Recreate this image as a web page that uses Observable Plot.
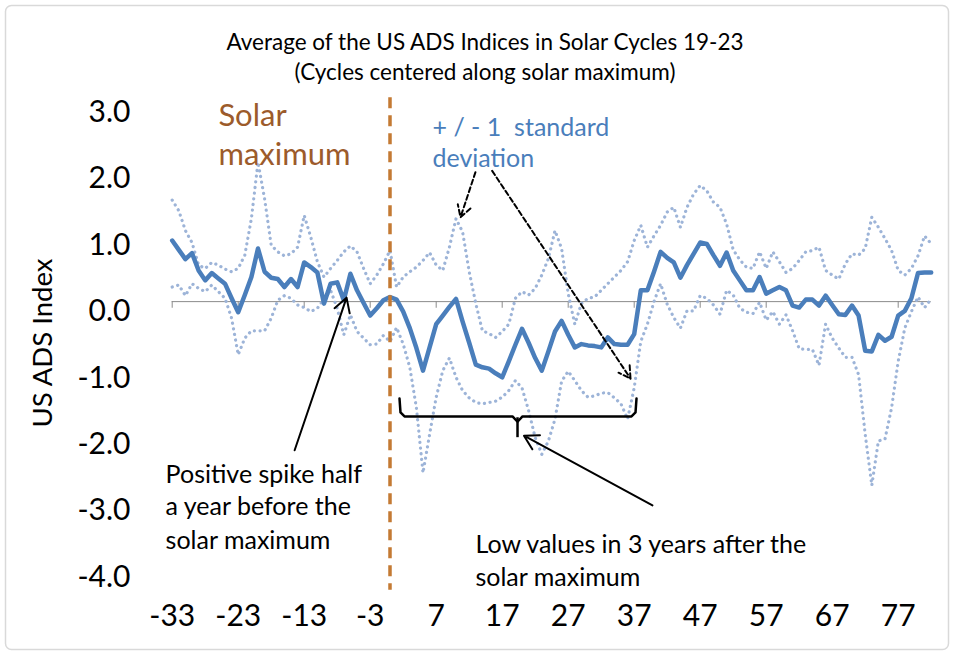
<!DOCTYPE html>
<html><head><meta charset="utf-8">
<script src="https://cdn.jsdelivr.net/npm/d3@7"></script>
<script src="https://cdn.jsdelivr.net/npm/@observablehq/plot@0.6"></script>
<style>
html,body{margin:0;padding:0;background:#fff;}
#chart{width:954px;height:655px;position:relative;}
</style></head><body><div id="chart"></div>
<script>
// months relative to the solar maximum (category axis)
const months = d3.range(-33, 83);
const adsMean = [
 0.92,0.78,0.64,0.73,0.47,0.32,0.43,0.35,0.27,0.05,
 -0.16,0.10,0.37,0.80,0.45,0.36,0.34,0.22,0.34,0.22,
 0.59,0.52,0.44,-0.03,0.27,0.29,0.02,0.42,0.17,-0.02,
 -0.21,-0.10,0.02,0.07,0.03,-0.15,-0.40,-0.70,-1.04,-0.69,
 -0.34,-0.21,-0.08,0.04,-0.30,-0.62,-0.95,-0.99,-1.01,-1.08,
 -1.14,-0.90,-0.65,-0.41,-0.62,-0.85,-1.04,-0.75,-0.45,-0.29,
 -0.50,-0.69,-0.64,-0.66,-0.67,-0.69,-0.54,-0.64,-0.65,-0.65,
 -0.49,0.17,0.17,0.45,0.75,0.66,0.59,0.36,0.55,0.72,
 0.89,0.87,0.70,0.54,0.74,0.47,0.32,0.17,0.17,0.37,
 0.12,0.17,0.22,0.17,-0.06,-0.09,0.03,0.03,-0.06,0.09,
 -0.05,-0.19,-0.20,-0.06,-0.21,-0.74,-0.75,-0.50,-0.59,-0.53,
 -0.21,-0.14,0.05,0.43,0.44,0.44
];
const adsUpper = [
 1.53,1.37,1.07,0.89,0.55,0.50,0.59,0.55,0.49,0.45,
 0.50,0.70,1.25,2.10,1.55,0.85,0.75,0.69,0.72,0.82,
 1.30,0.97,0.60,0.37,0.50,0.62,0.75,0.84,0.75,0.50,
 0.27,0.40,0.57,0.77,0.22,0.37,0.45,0.52,0.62,0.74,
 0.55,0.47,0.82,1.25,1.05,0.45,-0.03,-0.44,-0.48,-0.54,
 -0.45,-0.34,0.05,0.15,0.10,0.20,0.40,0.65,1.07,0.80,
 0.12,-0.34,-0.03,0.05,0.07,0.17,0.27,0.37,0.47,0.60,
 0.92,1.15,0.82,0.99,1.15,1.35,1.42,1.12,1.42,1.62,
 1.75,1.67,1.50,1.42,1.17,0.78,0.63,0.52,0.50,0.75,
 0.50,0.75,0.60,0.44,0.50,0.62,0.75,0.77,0.82,0.47,
 0.40,0.34,0.57,0.72,0.70,0.80,1.27,1.12,0.95,0.77,
 0.47,0.40,0.50,0.69,0.99,0.87
];
const adsLower = [
 0.22,0.25,0.09,0.27,0.20,0.15,0.25,0.15,0.05,-0.25,
 -0.80,-0.55,-0.44,-0.44,-0.44,-0.25,0.02,0.09,0.05,-0.05,
 -0.09,-0.15,-0.10,0.04,0.17,-0.10,-0.50,-0.20,-0.45,-0.55,
 -0.65,-0.64,-0.51,-0.60,-0.39,-0.64,-0.99,-1.60,-2.58,-2.00,
 -1.44,-1.04,-0.85,-1.14,-1.34,-1.45,-1.52,-1.54,-1.52,-1.50,
 -1.44,-1.34,-1.19,-1.30,-1.64,-2.05,-2.30,-2.10,-1.77,-1.20,
 -1.05,-1.19,-1.34,-1.44,-1.42,-1.38,-1.37,-1.45,-1.54,-1.77,
 -1.30,-0.60,-0.34,0.00,0.27,-0.04,-0.24,-0.40,-0.14,-0.14,
 0.09,0.05,-0.05,-0.19,0.17,0.10,-0.10,-0.16,-0.18,-0.01,
 -0.28,-0.15,-0.34,-0.20,-0.44,-0.71,-0.72,-0.72,-0.96,-0.34,
 -0.55,-0.70,-0.84,-0.84,-1.10,-2.00,-2.77,-2.10,-2.07,-1.60,
 -0.90,-0.40,-0.15,0.07,-0.09,0.04
];
const xTickLabels = [-33,-23,-13,-3,7,17,27,37,47,57,67,77];
const yTickValues = [3,2,1,0,-1,-2,-3,-4];
const titleLines = ["Average of the US ADS Indices in Solar Cycles 19-23", "(Cycles centered along solar maximum)"];
const yAxisTitle = "US ADS Index";
const solarMaximum = 0;

// annotations (data coordinates)
const brownNotes = [
  {x: -26.0, y: 2.79, text: "Solar"},
  {x: -26.0, y: 2.21, text: "maximum"}
];
const blueNotes = [
  {x: 6.44, y: 2.62, text: "+ / - 1\u00a0 standard"},
  {x: 6.44, y: 2.15, text: "deviation"}
];
const blackNotes = [
  {x: -34.0, y: -2.61, text: "Positive spike half"},
  {x: -34.0, y: -3.10, text: "a year before the"},
  {x: -34.0, y: -3.61, text: "solar maximum"},
  {x: 12.95, y: -3.66, text: "Low values in 3 years after the"},
  {x: 12.95, y: -4.16, text: "solar maximum"}
];
const solidArrows = [
  {x1: -14.45, y1: -2.24, x2: -6.58, y2: 0.06},
  {x1: 39.77, y1: -3.07, x2: 20.3, y2: -2.02}
];
const dashedArrows = [
  {x1: 12.95, y1: 1.95, x2: 10.68, y2: 1.27},
  {x1: 15.48, y1: 1.97, x2: 36.44, y2: -1.16}
];
const bracePath = [
  {x: 1.44, y: -1.46}, {x: 1.59, y: -1.67}, {x: 2.20, y: -1.73},
  {x: 18.56, y: -1.73}, {x: 19.32, y: -1.81}, {x: 20.08, y: -1.73},
  {x: 36.59, y: -1.73}, {x: 37.20, y: -1.67}, {x: 37.35, y: -1.46}
];
const braceNotch = [{x: 19.32, y1: -1.75, y2: -2.05}];

const rows = months.map((m, i) => ({m, mean: adsMean[i], upper: adsUpper[i], lower: adsLower[i]}));

const FONT = "Lato, 'Open Sans', sans-serif";
const W = 954, H = 655;
const mainBlue = "#4A7EBB", dotBlue = "#9DB4D8", brown = "#C47A33", brownText = "#9C5B2B";

const plot = Plot.plot({
  width: W, height: H,
  marginLeft: 171.7, marginRight: 23.3, marginTop: 102, marginBottom: 88.4,
  style: {fontFamily: FONT, background: "transparent", overflow: "visible", color: "#000"},
  x: {domain: [-33, 82]},
  y: {domain: [-4, 3]},
  marks: [
    Plot.ruleY([0], {stroke: "#8c8c8c", strokeWidth: 1}),
    Plot.ruleX(xTickLabels, {y1: 0, y2: -0.1, stroke: "#8c8c8c", strokeWidth: 1}),
    Plot.axisY({ticks: yTickValues, tickSize: 0, tickPadding: 41.7, fontSize: 30, dy: 10,
                tickFormat: d => d.toFixed(1), label: null, fill: "#000"}),
    Plot.axisX({ticks: xTickLabels, tickSize: 0, tickPadding: 38, fontSize: 30,
                tickFormat: d => String(d), label: null, fill: "#000"}),
    Plot.line(rows, {x: "m", y: "upper", stroke: dotBlue, strokeWidth: 3.2,
                     strokeDasharray: "0.1,5.6", strokeLinecap: "round"}),
    Plot.line(rows, {x: "m", y: "lower", stroke: dotBlue, strokeWidth: 3.2,
                     strokeDasharray: "0.1,5.6", strokeLinecap: "round"}),
    Plot.line(rows, {x: "m", y: "mean", stroke: mainBlue, strokeWidth: 4.5, strokeLinejoin: "round"}),
    Plot.ruleX([solarMaximum], {y1: 3.07, y2: -4.35, stroke: brown, strokeWidth: 3.5, strokeDasharray: "11,7"}),
    Plot.text(brownNotes, {x: "x", y: "y", text: "text", textAnchor: "start", fill: brownText, fontSize: 31}),
    Plot.text(blueNotes, {x: "x", y: "y", text: "text", textAnchor: "start", fill: mainBlue, fontSize: 25}),
    Plot.text(blackNotes, {x: "x", y: "y", text: "text", textAnchor: "start", fill: "#000", fontSize: 25}),
    Plot.arrow(solidArrows, {x1: "x1", y1: "y1", x2: "x2", y2: "y2", stroke: "#000", strokeWidth: 2, headLength: 12, bend: 0}),
    Plot.arrow(dashedArrows, {x1: "x1", y1: "y1", x2: "x2", y2: "y2", stroke: "#000", strokeWidth: 2, headLength: 10, bend: 0, strokeDasharray: "5,3"}),
    Plot.line(bracePath, {x: "x", y: "y", stroke: "#000", strokeWidth: 2.5}),
    Plot.ruleX(braceNotch, {x: "x", y1: "y1", y2: "y2", stroke: "#000", strokeWidth: 2.5})
  ]
});

const svg = d3.select(plot);
svg.insert("rect", ":first-child")
  .attr("x", 5.5).attr("y", 5.5).attr("width", W - 11).attr("height", H - 11).attr("rx", 6)
  .attr("fill", "#fff").attr("stroke", "#d9d9d9").attr("stroke-width", 1.5);
svg.append("text").attr("x", 485).attr("y", 50).attr("text-anchor", "middle")
  .attr("font-family", FONT).attr("font-size", 22.5).attr("fill", "#000").text(titleLines[0]);
svg.append("text").attr("x", 485).attr("y", 80).attr("text-anchor", "middle")
  .attr("font-family", FONT).attr("font-size", 22.5).attr("fill", "#000").text(titleLines[1]);
svg.append("text").attr("transform", "translate(52,343) rotate(-90)").attr("text-anchor", "middle")
  .attr("font-family", FONT).attr("font-size", 27.5).attr("fill", "#000").text(yAxisTitle);

document.getElementById("chart").appendChild(plot);
</script>
</body></html>
